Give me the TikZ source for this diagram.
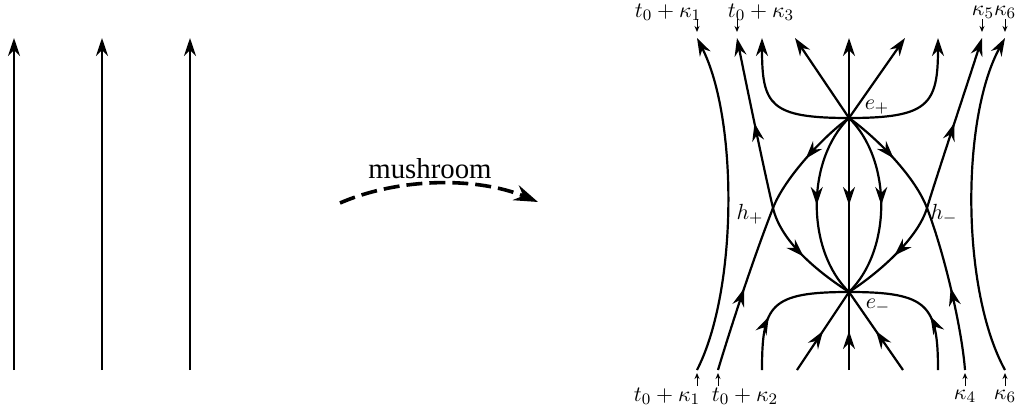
\documentclass[tikz,border=0pt]{standalone}
\usepackage{fontspec}
\newfontfamily\mushfont{Liberation Serif}
\usetikzlibrary{arrows.meta,decorations.markings}

\begin{document}
\begin{tikzpicture}[x=0.5pt, y=-0.5pt,
  flow/.style={line width=1.1pt, -{Stealth[length=9pt, width=6pt, inset=3pt]}},
  curve/.style={line width=1.1pt},
  midarr/.style={postaction={decorate}, decoration={markings,
      mark=at position #1 with {\arrow{Stealth[length=9pt, width=6pt, inset=3pt]}}}},
  midarr/.default=0.5,
  tick/.style={line width=0.5pt, -{Stealth[length=3pt, width=2.5pt]}},
  lab/.style={font=\fontsize{11}{13}\selectfont, inner sep=1pt},
  dashflow/.style={line width=1.8pt, dash pattern=on 8pt off 3.5pt,
      -{Stealth[length=12pt, width=8pt, inset=4pt]}}
]
\useasboundingbox (0,0) rectangle (1019,413);

% Left: parallel flow lines
\foreach \x/\n in {14/a, 102/b, 190/c} {
  \coordinate (s\n) at (\x,370);
  \coordinate (t\n) at (\x,38);
  \draw[flow] (s\n) -- (t\n);
}

% Mushroom move
\coordinate (mstart) at (340,203);
\coordinate (mend)   at (538,202);
\draw[dashflow] (mstart) .. controls (400,177) and (478,177) .. (mend);
\node[font=\mushfont\fontsize{14.4}{17}\selectfont] (mush) at (430,169) {mushroom};

% Right: critical points
\coordinate (ep) at (849,118);
\coordinate (em) at (849,292);
\coordinate (hp) at (773,208);
\coordinate (hm) at (927,208);

% Ends on top and bottom
\coordinate (T1)  at (697,38);
\coordinate (T3)  at (737,38);
\coordinate (Tul) at (762,38);
\coordinate (Tdl) at (795,38);
\coordinate (Tc)  at (849,38);
\coordinate (Tdr) at (905,38);
\coordinate (Tur) at (938,38);
\coordinate (T5)  at (982,38);
\coordinate (T6)  at (1005,38);
\coordinate (B1)  at (697,370);
\coordinate (B2)  at (718,370);
\coordinate (Bul) at (762,370);
\coordinate (Bdl) at (797,370);
\coordinate (Bc)  at (849,370);
\coordinate (Bdr) at (903,370);
\coordinate (Bur) at (938,370);
\coordinate (B4)  at (965,370);
\coordinate (B6)  at (1005,370);

% Outer arcs
\draw[flow] (B1) .. controls (738,290) and (738,118) .. (T1);
\draw[flow] (B6) .. controls (961,290) and (961,118) .. (T6);

% Out of e+
\draw[flow] (ep) -- (Tc);
\draw[flow] (ep) -- (Tdl);
\draw[flow] (ep) -- (Tdr);
\draw[flow] (ep) .. controls (770,118) and (762,105) .. (Tul);
\draw[flow] (ep) .. controls (928,118) and (938,105) .. (Tur);

% From e+ to e-
\draw[curve, midarr] (ep) -- (em);
\draw[curve, midarr] (ep) .. controls (806,160) and (806,250) .. (em);
\draw[curve, midarr] (ep) .. controls (892,160) and (892,250) .. (em);

% Saddle h+
\draw[curve, midarr] (B2) .. controls (730,330) and (752,262) .. (hp);
\draw[curve, midarr] (ep) .. controls (825,135) and (785,177) .. (hp);
\draw[flow, midarr] (hp) .. controls (764,170) and (745,78) .. (T3);
\draw[curve, midarr] (hp) .. controls (781,242) and (818,272) .. (em);

% Saddle h-
\draw[curve, midarr] (B4) .. controls (962,330) and (945,255) .. (hm);
\draw[curve, midarr] (ep) .. controls (873,135) and (914,174) .. (hm);
\draw[flow, midarr] (hm) .. controls (936,178) and (970,76) .. (T5);
\draw[curve, midarr] (hm) .. controls (918,238) and (880,272) .. (em);

% Into e-
\draw[curve, midarr] (Bc) -- (em);
\draw[curve, midarr] (Bdl) -- (em);
\draw[curve, midarr] (Bdr) -- (em);
\draw[curve, midarr=0.38] (Bul) .. controls (762,305) and (770,292) .. (em);
\draw[curve, midarr=0.38] (Bur) .. controls (938,305) and (928,292) .. (em);

% Labels
\node[lab] (lep) at (877,107) {$e_+$};
\node[lab] (lem) at (878,306) {$e_-$};
\node[lab] (lhp) at (750,214) {$h_+$};
\node[lab] (lhm) at (944,214) {$h_-$};

\node[lab] (k1top)  at (668,12)  {$t_0+\kappa_1$};
\node[lab] (k3top)  at (761,12)  {$t_0+\kappa_3$};
\node[lab] (k56top) at (994,12)  {$\kappa_5\kappa_6$};
\node[lab] (k1bot)  at (667,396) {$t_0+\kappa_1$};
\node[lab] (k2bot)  at (745,396) {$t_0+\kappa_2$};
\node[lab] (k4bot)  at (965,396) {$\kappa_4$};
\node[lab] (k6bot)  at (1005,396) {$\kappa_6$};

% Ticks to the ends
\foreach \e in {T1, T3, T5, T6}
  \draw[tick] (\e) ++(0,-19) -- ++(0,13);
\foreach \e in {B1, B2, B4, B6}
  \draw[tick] (\e) ++(0,16) -- ++(0,-13);
\end{tikzpicture}
\end{document}
